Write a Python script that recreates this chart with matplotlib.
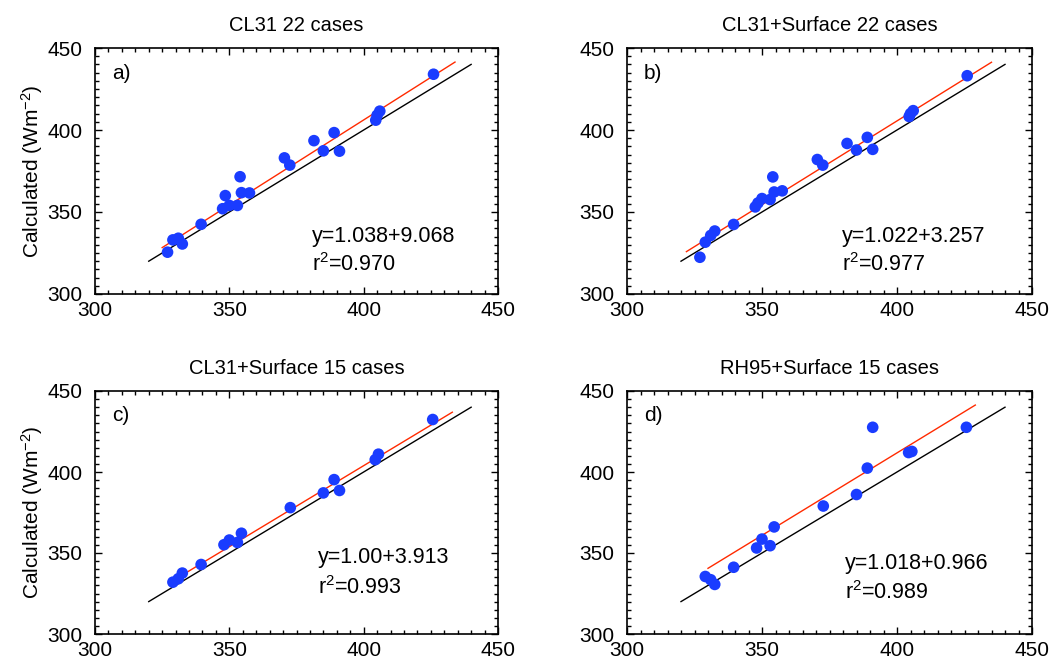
import matplotlib
matplotlib.use("Agg")
import matplotlib.pyplot as plt
import numpy as np
from matplotlib.ticker import MultipleLocator

plt.rcParams['font.family'] = ['Liberation Sans', 'DejaVu Sans']
plt.rcParams['mathtext.default'] = 'regular'

titles = ["CL31 22 cases", "CL31+Surface 22 cases", "CL31+Surface 15 cases", "RH95+Surface 15 cases"]
panel_labels = ["a)", "b)", "c)", "d)"]
eq_texts = ["y=1.038+9.068", "y=1.022+3.257", "y=1.00+3.913", "y=1.018+0.966"]
r2_texts = ["r$^2$=0.970", "r$^2$=0.977", "r$^2$=0.993", "r$^2$=0.989"]

x22 = [327, 329, 331, 332.5, 339.5, 347.5, 348.5, 350, 353, 354, 354.5, 357.5,
       370.5, 372.5, 381.5, 385, 389, 391, 404.5, 405, 406, 426]
y_a = [325.5, 333, 334, 330.5, 342.5, 352, 360, 354, 354, 371.5, 361.8, 361.6,
       383, 378.6, 393.5, 387.3, 398.4, 387.1, 406, 409, 411.5, 434]
y_b = [322.4, 331.6, 335.7, 338.4, 342.4, 353.1, 355.5, 358.2, 357.6, 371.4, 362.2, 362.9,
       382, 378.6, 391.8, 387.8, 395.5, 388.2, 408.2, 410, 411.8, 433.1]

x15 = [329, 331, 332.5, 339.5, 348, 350, 353, 354.5, 372.7, 385, 389, 391, 404.3, 405.5, 425.7]
y_c = [332, 334.1, 337.6, 342.9, 355.1, 358, 356.5, 362.2, 378, 387.1, 395.3, 388.6, 407.6, 411, 432.4]
y_d = [335.5, 333.5, 330.6, 341.2, 353.1, 358.6, 354.5, 366.1, 379, 386.1, 402.4, 427.6, 412, 412.7, 427.6]

# fitted regression lines (slope, intercept, x range) as drawn
fit_slope = [1.038, 1.022, 1.00, 1.018]
fit_icpt = [-9.068, -3.257, 3.913, 4.6]
fit_xrange = [(325, 434), (322, 435), (331.5, 433), (330, 429)]
one_to_one = (320, 440)

xs = [x22, x22, x15, x15]
ys = [y_a, y_b, y_c, y_d]

fig = plt.figure(figsize=(10.49, 6.59), dpi=100)
W, H = 1049, 659
boxes = [(95, 498, 48, 294), (627, 1032, 48, 294), (95, 498, 391, 634), (627, 1032, 391, 634)]
text_pos = [(0.538, 0.233, 0.118), (0.531, 0.233, 0.118), (0.553, 0.313, 0.19), (0.538, 0.292, 0.169)]

for i in range(4):
    l, r, t, b = boxes[i]
    ax = fig.add_axes([l / W, 1 - b / H, (r - l) / W, (b - t) / H])
    ax.set_xlim(300, 450)
    ax.set_ylim(300, 450)
    ax.xaxis.set_major_locator(MultipleLocator(50))
    ax.yaxis.set_major_locator(MultipleLocator(50))
    ax.xaxis.set_minor_locator(MultipleLocator(5))
    ax.yaxis.set_minor_locator(MultipleLocator(5))
    ax.tick_params(which='both', direction='in', top=True, right=True, labelsize=15, width=1.0)
    ax.tick_params(axis='x', which='both', pad=5)
    ax.tick_params(axis='y', which='both', pad=9)
    ax.tick_params(which='major', length=5)
    ax.tick_params(which='minor', length=3)
    for s in ax.spines.values():
        s.set_linewidth(1.2)
    xo = np.array(one_to_one)
    ax.plot(xo, xo, color='black', lw=1.0, zorder=2)
    xf = np.array(fit_xrange[i])
    ax.plot(xf, fit_slope[i] * xf + fit_icpt[i], color='#ff2a00', lw=1.0, zorder=3)
    ax.scatter(xs[i], ys[i], s=70, color='#1a3cff', edgecolors='none', zorder=4)
    ax.set_title(titles[i], fontsize=14.5, pad=12)
    ax.text(0.042, 0.898, panel_labels[i], transform=ax.transAxes, fontsize=15, va='center', ha='left')
    tx, ty1, ty2 = text_pos[i]
    ax.text(tx, ty1, eq_texts[i], transform=ax.transAxes, fontsize=15.5, va='center', ha='left')
    ax.text(tx, ty2, r2_texts[i], transform=ax.transAxes, fontsize=15.5, va='center', ha='left')
    if i in (0, 2):
        ax.set_ylabel("Calculated (Wm$^{-2}$)", fontsize=15, labelpad=2)

fig.savefig("out.png", dpi=100)
